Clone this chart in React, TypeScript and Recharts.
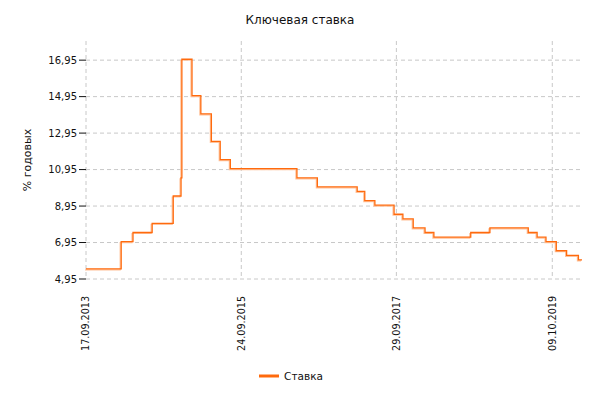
import React from 'react';
import { LineChart, Line, XAxis, YAxis, CartesianGrid, Legend, Label } from 'recharts';

// Key rate change dates and values (step chart)
const rateDates = [
  '17.09.2013', '03.03.2014', '28.04.2014', '28.07.2014', '05.11.2014', '12.12.2014',
  '16.12.2014', '02.02.2015', '16.03.2015', '05.05.2015', '16.06.2015', '03.08.2015',
  '14.06.2016', '19.09.2016', '27.03.2017', '02.05.2017', '19.06.2017', '18.09.2017',
  '30.10.2017', '18.12.2017', '12.02.2018', '26.03.2018', '17.09.2018', '17.12.2018',
  '17.06.2019', '29.07.2019', '09.09.2019', '28.10.2019', '16.12.2019', '10.02.2020',
  '27.02.2020',
];
const rateValues = [
  5.5, 7.0, 7.5, 8.0, 9.5, 10.5,
  17.0, 15.0, 14.0, 12.5, 11.5, 11.0,
  10.5, 10.0, 9.75, 9.25, 9.0, 8.5,
  8.25, 7.75, 7.5, 7.25, 7.5, 7.75,
  7.5, 7.25, 7.0, 6.5, 6.25, 6.0,
  6.0,
];

const xTickLabels = ['17.09.2013', '24.09.2015', '29.09.2017', '09.10.2019'];
const yTicks = [4.95, 6.95, 8.95, 10.95, 12.95, 14.95, 16.95];
const yDomain: [number, number] = [4.95, 18];

const toTime = (s: string) => {
  const [d, m, y] = s.split('.').map(Number);
  return Date.UTC(y, m - 1, d);
};

const data = rateDates.map((d, i) => ({ t: toTime(d), rate: rateValues[i] }));
const xTicks = xTickLabels.map(toTime);
const xDomain: [number, number] = [xTicks[0], data[data.length - 1].t];

const FONT = '"DejaVu Sans", Verdana, sans-serif';
const LINE_COLOR = '#ff6a0d';

const fmtDate = (t: number) => {
  const d = new Date(t);
  const dd = String(d.getUTCDate()).padStart(2, '0');
  const mm = String(d.getUTCMonth() + 1).padStart(2, '0');
  return `${dd}.${mm}.${d.getUTCFullYear()}`;
};

// grid only at the ticks (no lines on the plot's top/right edges)
const hGrid = ({ offset }: any) =>
  yTicks.map((v) => offset.top + (offset.height * (yDomain[1] - v)) / (yDomain[1] - yDomain[0]));
const vGrid = ({ offset }: any) =>
  xTicks.map((v) => offset.left + (offset.width * (v - xDomain[0])) / (xDomain[1] - xDomain[0]));

const XTick = ({ x, y, payload }: any) => (
  <text
    x={x}
    y={y + 9}
    dy="0.35em"
    transform={`rotate(-90 ${x} ${y + 9})`}
    textAnchor="end"
    fontSize={9.6}
    fontFamily={FONT}
    fill="#111"
  >
    {fmtDate(payload.value)}
  </text>
);

const LegendContent = () => (
  <div
    style={{
      display: 'flex', justifyContent: 'center', alignItems: 'center', height: 36,
      paddingBottom: 12, boxSizing: 'border-box', fontFamily: FONT, fontSize: 10.5, color: '#111',
    }}
  >
    <svg width={20} height={4} style={{ marginRight: 5 }}>
      <line x1={0} y1={2} x2={20} y2={2} stroke={LINE_COLOR} strokeWidth={3} />
    </svg>
    <span>Ставка</span>
  </div>
);

export default function App() {
  return (
    <div style={{ position: 'relative', width: 600, height: 400 }}>
      <style>{'body{margin:0} .rate-shadow path{transform:translate(-1px,1px)}'}</style>
      <div
        style={{
          position: 'absolute', top: 12, left: 0, width: 600, textAlign: 'center',
          fontFamily: FONT, fontSize: 12, color: '#111', lineHeight: '16px',
        }}
      >
        Ключевая ставка
      </div>
      <LineChart width={600} height={400} data={data} margin={{ top: 41, right: 18, bottom: 0, left: 0 }}>
        <CartesianGrid
          stroke="#c8c8c8"
          strokeDasharray="4 3"
          horizontalCoordinatesGenerator={hGrid}
          verticalCoordinatesGenerator={vGrid}
        />
        <XAxis
          dataKey="t"
          type="number"
          domain={xDomain}
          ticks={xTicks}
          tick={<XTick />}
          tickLine={false}
          axisLine={false}
          height={85}
          interval={0}
        />
        <YAxis
          type="number"
          domain={yDomain}
          ticks={yTicks}
          width={86}
          axisLine={false}
          tickLine={{ stroke: '#111' }}
          tickSize={7}
          tickMargin={2}
          tick={{ fontSize: 10, fontFamily: FONT, fill: '#111' }}
          tickFormatter={(v: number) => v.toFixed(2).replace('.', ',')}
          interval={0}
        >
          <Label
            content={() => (
              <text x={31} y={160} transform="rotate(-90 31 160)" textAnchor="middle" fontSize={11} fontFamily={FONT} fill="#111">
                % годовых
              </text>
            )}
          />
        </YAxis>
        <Legend verticalAlign="bottom" height={36} content={<LegendContent />} />
        <Line
          className="rate-shadow"
          type="stepAfter"
          dataKey="rate"
          stroke="#ffc29a"
          strokeWidth={1.2}
          dot={false}
          legendType="none"
          isAnimationActive={false}
        />
        <Line
          type="stepAfter"
          dataKey="rate"
          name="Ставка"
          stroke={LINE_COLOR}
          strokeWidth={1.3}
          dot={false}
          isAnimationActive={false}
        />
      </LineChart>
    </div>
  );
}
